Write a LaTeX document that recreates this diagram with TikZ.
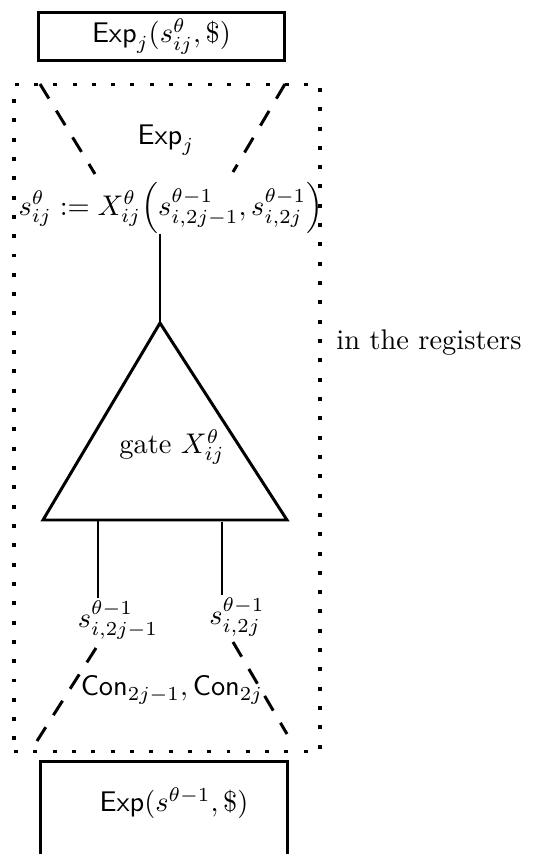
\documentclass[tikz,border=0pt]{standalone}
\usepackage{amsmath}
\usepackage{tikz}
\usetikzlibrary{positioning}

\begin{document}
\begin{tikzpicture}[x=0.352pt,y=-0.352pt,
  box/.style={draw,line width=1.05pt,minimum width=86.6pt,minimum height=17pt,
              inner sep=0pt},
  region/.style={draw,line width=1.1pt,dash pattern=on 1.4pt off 5.4pt,
              minimum width=107.7pt,minimum height=235pt,inner sep=0pt},
  cone/.style={line width=1.05pt,dash pattern=on 6pt off 5pt},
  wire/.style={line width=1.05pt},
  lbl/.style={inner sep=1pt}]

  \clip (0,0) rectangle (548,854);

  % outer boxes
  \node[box] (expj) at (161.5,36.5) {$\mathsf{Exp}_j(s^\theta_{ij},\$)$};
  \node[region] (regs) at (167,418) {};
  \node[lbl,anchor=west] (inregs) at (333,343) {in the registers};
  \node[box,minimum height=50pt,anchor=north] (prev) at (164,760) {};
  \node[lbl] (prevtxt) at (174,803) {$\mathsf{Exp}(s^{\theta-1},\$)$};

  % upper cone
  \coordinate (tl) at (40,84);
  \coordinate (tr) at (285,84);
  \node[lbl] (explbl) at (166,140) {$\mathsf{Exp}_j$};
  \node[inner sep=0pt] (assign) at (171,208)
    {$s^\theta_{ij} := X^\theta_{ij}\Bigl(s^{\theta-1}_{i,2j-1},s^{\theta-1}_{i,2j}\Bigr)$};
  \draw[cone] (tl) -- (95,174);
  \draw[cone] (tr) -- (233,172);

  % gate
  \coordinate (apex) at (160,323);
  \coordinate (bl) at (43,520);
  \coordinate (br) at (287,520);
  \draw[wire] (apex) -- (bl) -- (br) -- cycle;
  \node[lbl] (gate) at (172,447) {gate $X^\theta_{ij}$};
  \draw[wire] (apex |- assign.south) -- (apex);

  % inputs
  \coordinate (in1) at (98,520);
  \coordinate (in2) at (222,522);
  \node[lbl] (sa) at (118,620) {$s^{\theta-1}_{i,2j-1}$};
  \node[lbl] (sb) at (237,617) {$s^{\theta-1}_{i,2j}$};
  \draw[wire] (in1) -- (in1 |- sa.north);
  \draw[wire] (in2) -- (in2 |- sb.north);

  % lower cone
  \coordinate (bl2) at (37,741);
  \coordinate (br2) at (287,734);
  \node[lbl] (conlbl) at (172,690) {$\mathsf{Con}_{2j-1},\mathsf{Con}_{2j}$};
  \draw[cone] (96,648) -- (bl2);
  \draw[cone] (233,642) -- (br2);
\end{tikzpicture}
\end{document}
